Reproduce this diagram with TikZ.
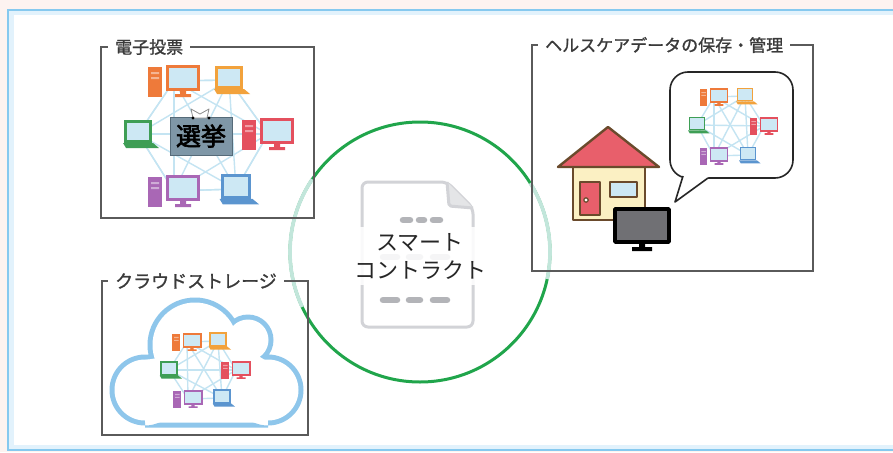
\documentclass[tikz,border=0pt]{standalone}
\usepackage{fontspec}
\newfontfamily\jp{Noto Sans CJK JP}
\newfontfamily\jpbold[FakeBold=1.2]{Noto Sans CJK JP}
\newfontfamily\jpheavy[FakeBold=2.5]{Noto Sans CJK JP}

\definecolor{pcorange}{HTML}{EE7A3A}
\definecolor{pcamber}{HTML}{F2A23C}
\definecolor{pcgreen}{HTML}{3E9E55}
\definecolor{pcred}{HTML}{E4505E}
\definecolor{pcpurple}{HTML}{A967B5}
\definecolor{pcblue}{HTML}{5B95CF}
\definecolor{pcscreen}{HTML}{CDE8F4}
\definecolor{netblue}{HTML}{C4E4F2}
\definecolor{cloudblue}{HTML}{8EC6EB}
\definecolor{ringgreen}{HTML}{20A54B}
\definecolor{ringfade}{HTML}{C2E6DB}
\definecolor{docgray}{HTML}{D2D3D7}
\definecolor{dashgray}{HTML}{B3B4B8}
\definecolor{roofred}{HTML}{E85F6B}
\definecolor{wallcream}{HTML}{FBF0C3}
\definecolor{housebrown}{HTML}{6A4A2C}
\definecolor{boardslate}{HTML}{7F97A7}
\definecolor{boardedge}{HTML}{566B79}
\definecolor{frameblue}{HTML}{86C9EF}
\definecolor{frameglow}{HTML}{E2F2FC}
\definecolor{pagepink}{HTML}{FDF3F0}
\definecolor{boxgray}{HTML}{5A5A5A}
\definecolor{labeltext}{HTML}{3A3A3A}
\definecolor{screengray}{HTML}{707074}

% all six machines of a cluster linked with each other
\newcommand\meshlinks[1]{%
  \foreach \i in {1,...,6}{\foreach \j in {1,...,6}{%
    \ifnum\i<\j\relax \draw[net] (#1\i) -- (#1\j);\fi}}}

\tikzset{
  pics/desktop/.style={code={
    \fill[#1] (-26,-14) rectangle (-12,16);
    \fill[white,opacity=.45] (-23,-9) rectangle (-15,-7) (-23,-4) rectangle (-15,-2);
    \fill[#1] (-8,-16) rectangle (26,10);
    \fill[pcscreen] (-5,-13) rectangle (23,7);
    \fill[#1] (6,10) rectangle (12,13) (1,13) rectangle (17,16);
  }},
  pics/laptop/.style={code={
    \fill[#1] (-14,-14) rectangle (14,9);
    \fill[pcscreen] (-11,-11) rectangle (11,6);
    \fill[#1] (-15,9) -- (15,9) -- (21,14) -- (-12,14) -- cycle;
  }},
}

\begin{document}
\begin{tikzpicture}[x=1pt,y=-1pt,
  boxline/.style={draw=boxgray, line width=1.3},
  boxlabel/.style={font=\jpbold\fontsize{17}{20}\selectfont, text=labeltext, inner xsep=7, inner ysep=0},
  net/.style={draw=netblue, line width=1.4},
  docline/.style={draw=docgray, line width=3, line join=round},
  dashbar/.style={draw=dashgray, line width=6.5, line cap=round},
  house/.style={draw=housebrown, line width=2.4, line join=round},
]
\useasboundingbox (0,0) rectangle (893,452);

% page and framed panel
\fill[pagepink] (0,0) rectangle (893,452);
\fill[white] (8,10) rectangle (900,450);
\draw[frameglow, line width=5] (11,13) rectangle (905,447);
\draw[frameblue, line width=1.6] (8,10) rectangle (905,450);

% central ring
\draw[ringgreen, line width=3] (420,252) circle[radius=130];
\draw[ringfade, line width=3.6] (420,252) ++(155:130) arc[start angle=155, end angle=214, radius=130];
\draw[ringfade, line width=3.6] (420,252) ++(-32:130) arc[start angle=-32, end angle=12, radius=130];

% contract sheet
\draw[docline, rounded corners=6] (447,182) -- (362,182) -- (362,327) -- (473,327) -- (473,208) -- cycle;
\draw[docline, fill=docgray!60, rounded corners=2] (447,182) -- (449,206) -- (473,208);
\draw[dashbar] (403,220) -- (410,220) (419,220) -- (424,220) (433,220) -- (440,220);
\draw[dashbar] (383,257) -- (397,257) (409,257) -- (420,257) (433,257) -- (447,257);
\draw[dashbar] (383,300) -- (397,300) (409,300) -- (420,300) (433,300) -- (447,300);
\node[fill=white, fill opacity=.88, text opacity=1, inner xsep=8, inner ysep=6,
      align=center, font=\jp\fontsize{22}{28}\selectfont, text=black!85]
  (contract) at (420,256) {スマート\\コントラクト};

% ---------- e-voting panel ----------
\node[boxlabel, anchor=west] (lvote) at (108,47) {電子投票};
\draw[boxline] (lvote.east) -- (314,47) -- (314,218) -- (101,218) -- (101,47) -- (lvote.west);

\coordinate (ev1) at (174,81);
\coordinate (ev2) at (229,80);
\coordinate (ev3) at (138,134);
\coordinate (ev4) at (268,134);
\coordinate (ev5) at (174,191);
\coordinate (ev6) at (236,189);
\meshlinks{ev}
\draw[net] (ev1) -- (ev2) -- (ev4) -- (ev6) -- (ev5) -- (ev3) -- cycle;
\pic at (ev1) {desktop=pcorange};
\pic at (ev2) {laptop=pcamber};
\pic at (ev3) {laptop=pcgreen};
\pic at (ev4) {desktop=pcred};
\pic at (ev5) {desktop=pcpurple};
\pic[scale=1.1] at (ev6) {laptop=pcblue};

\node[fill=boardslate, draw=boardedge, line width=1, minimum width=62, minimum height=38,
      inner sep=0, font=\jpheavy\fontsize{25}{25}\selectfont, text=black]
  (ballotbox) at (201,136) {選挙};
\filldraw[fill=white, draw=black!45, line width=.8, line join=round]
  (191,109) -- (200,114) -- (209,109) -- (207,118) -- (193,118) -- cycle;
\fill[black] (193,118) circle[radius=1.6] (209,118) circle[radius=1.6];

% ---------- health-care panel ----------
\node[boxlabel, anchor=west] (lhealth) at (538,45) {ヘルスケアデータの保存・管理};
\draw[boxline] (lhealth.east) -- (813,45) -- (813,271) -- (532,271) -- (532,45) -- (lhealth.west);

\node[draw=black!85, line width=1.6, rounded corners=18, fill=white,
      minimum width=123, minimum height=106] (bubble) at (731.5,125) {};
\fill[white] (683,170) -- (683,176) -- (675,202) -- (708,178) -- (708,170) -- cycle;
\draw[black!85, line width=1.6, line join=round] (683,176) -- (675,202) -- (708,178);

\coordinate (hv1) at (714,97);
\coordinate (hv2) at (745,96);
\coordinate (hv3) at (697,125);
\coordinate (hv4) at (764,126);
\coordinate (hv5) at (714,156);
\coordinate (hv6) at (748,155);
\meshlinks{hv}
\pic[scale=.55] at (hv1) {desktop=pcorange};
\pic[scale=.6] at (hv2) {laptop=pcamber};
\pic[scale=.6] at (hv3) {laptop=pcgreen};
\pic[scale=.55] at (hv4) {desktop=pcred};
\pic[scale=.55] at (hv5) {desktop=pcpurple};
\pic[scale=.6] at (hv6) {laptop=pcblue};

% house
\filldraw[house, fill=wallcream] (573,165) rectangle (645,220);
\filldraw[house, fill=roofred] (608,127) -- (558,167) -- (659,167) -- cycle;
\filldraw[house, fill=roofred, line width=2] (580,182) rectangle (600,215);
\filldraw[house, fill=white, line width=1.2] (586,200) circle[radius=2.2];
\filldraw[house, fill=pcscreen, line width=2] (610,182) rectangle (637,197);

% display
\filldraw[fill=screengray, draw=black, line width=3.5, line join=round] (615,209) rectangle (669,242);
\fill[black] (639,242) rectangle (645,248) (632,247) rectangle (652,251);

% ---------- cloud-storage panel ----------
\node[boxlabel, anchor=west, font=\jpbold\fontsize{18}{20}\selectfont] (lcloud) at (108,281) {クラウドストレージ};
\draw[boxline] (lcloud.east) -- (308,281) -- (308,435) -- (102,435) -- (102,281) -- (lcloud.west);

% cloud outline: outer band of the lobes, then the inside cleared
\fill[cloudblue] (145,390) circle[radius=35.5] (268,390) circle[radius=35.5]
  (248,340) circle[radius=25.5] (195,345) circle[radius=47.5]
  (145,400) rectangle (268,427.5);
\fill[white] (145,390) circle[radius=30.5] (268,390) circle[radius=30.5]
  (248,340) circle[radius=20.5] (195,345) circle[radius=42.5];
\fill[white] (145,360) -- (240,345) -- (265,360) -- (268,422.5) -- (145,422.5) -- cycle;

\coordinate (cv1) at (187,342);
\coordinate (cv2) at (218,341);
\coordinate (cv3) at (169,370);
\coordinate (cv4) at (236,370);
\coordinate (cv5) at (188,399);
\coordinate (cv6) at (222,398);
\meshlinks{cv}
\pic[scale=.56] at (cv1) {desktop=pcorange};
\pic[scale=.62] at (cv2) {laptop=pcamber};
\pic[scale=.62] at (cv3) {laptop=pcgreen};
\pic[scale=.56] at (cv4) {desktop=pcred};
\pic[scale=.56] at (cv5) {desktop=pcpurple};
\pic[scale=.62] at (cv6) {laptop=pcblue};
\end{tikzpicture}
\end{document}
